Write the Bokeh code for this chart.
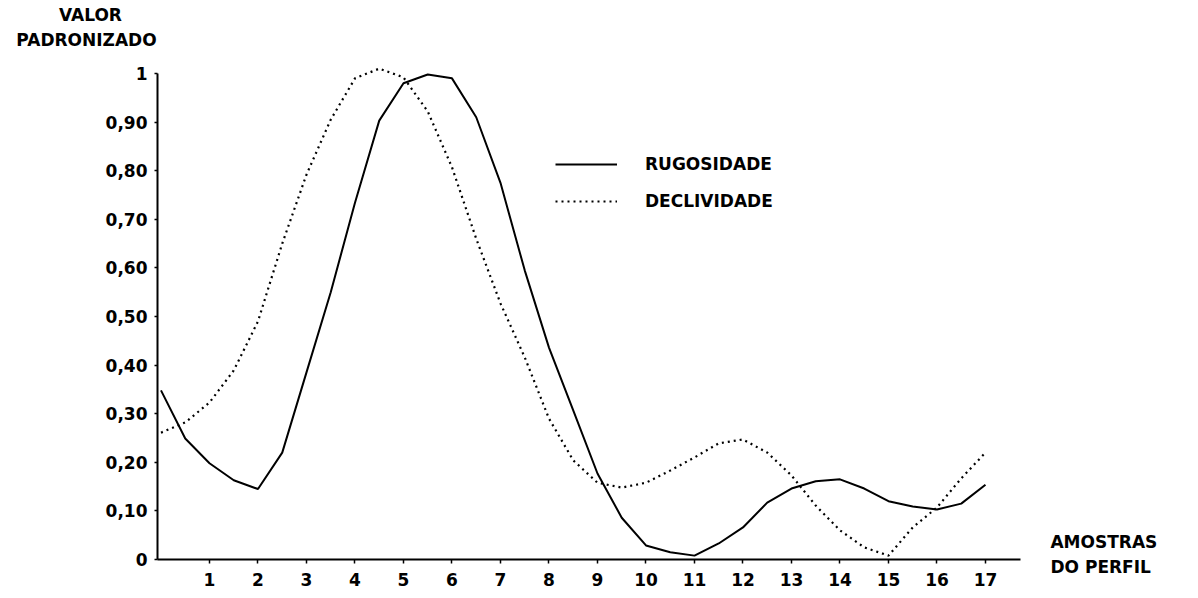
from bokeh.plotting import figure
from bokeh.models import Range1d, FixedTicker, Label, Legend, LegendItem
from bokeh.embed import file_html
from bokeh.resources import INLINE

# Samples along the profile (read at half-sample steps from the picture)
amostras = [0, 0.5, 1, 1.5, 2, 2.5, 3, 3.5, 4, 4.5, 5, 5.5, 6, 6.5, 7, 7.5, 8, 8.5,
            9, 9.5, 10, 10.5, 11, 11.5, 12, 12.5, 13, 13.5, 14, 14.5, 15, 15.5, 16, 16.5, 17]

rugosidade = [0.348, 0.249, 0.198, 0.163, 0.145, 0.22, 0.385, 0.55, 0.734, 0.903, 0.98, 0.998,
              0.99, 0.91, 0.775, 0.595, 0.436, 0.307, 0.177, 0.086, 0.029, 0.015, 0.008, 0.033,
              0.066, 0.117, 0.146, 0.161, 0.165, 0.146, 0.12, 0.109, 0.103, 0.115, 0.154]

declividade = [0.261, 0.282, 0.323, 0.389, 0.49, 0.65, 0.792, 0.905, 0.99, 1.01, 0.992, 0.922,
               0.807, 0.66, 0.527, 0.416, 0.29, 0.204, 0.158, 0.148, 0.158, 0.183, 0.21, 0.239,
               0.247, 0.22, 0.173, 0.111, 0.06, 0.025, 0.008, 0.066, 0.107, 0.167, 0.22]

x_ticks = list(range(1, 18))
y_ticks = [0, 0.1, 0.2, 0.3, 0.4, 0.5, 0.6, 0.7, 0.8, 0.9, 1.0]
y_tick_labels = ["0", "0,10", "0,20", "0,30", "0,40", "0,50", "0,60", "0,70", "0,80", "0,90", "1"]

FONT = "DejaVu Sans"
W, H = 1196, 596

# frame covers the whole canvas; axes are pinned at fixed data locations
p = figure(width=W, height=H,
           x_range=Range1d(-3.309, 21.351), y_range=Range1d(-0.0761, 1.1502),
           output_backend="svg", toolbar_location=None,
           min_border_left=0, min_border_right=0, min_border_top=0, min_border_bottom=0)
p.outline_line_color = None
p.xgrid.grid_line_color = None
p.ygrid.grid_line_color = None
p.background_fill_color = "white"
p.border_fill_color = "white"

r1 = p.line(amostras, rugosidade, line_color="black", line_width=2)
r2 = p.line(amostras, declividade, line_color="black", line_width=2.2, line_dash="2 4")

# axes
p.xaxis.ticker = FixedTicker(ticks=x_ticks)
p.yaxis.ticker = FixedTicker(ticks=y_ticks)
p.yaxis.major_label_overrides = {t: l for t, l in zip(y_ticks, y_tick_labels)}
p.xaxis.fixed_location = 0
p.yaxis.fixed_location = -0.072
p.xaxis.bounds = (-0.072, 17.72)
p.yaxis.bounds = (0, 1.0)
for ax in (p.xaxis, p.yaxis):
    ax.axis_line_color = "black"
    ax.axis_line_width = 2
    ax.major_tick_line_color = "black"
    ax.major_tick_line_width = 1.5
    ax.minor_tick_line_color = None
    ax.major_label_text_font = FONT
    ax.major_label_text_font_style = "bold"
    ax.major_label_text_font_size = "17px"
    ax.major_label_text_color = "black"
p.xaxis.major_tick_in = 0
p.xaxis.major_tick_out = 4
p.xaxis.major_label_standoff = 9
p.yaxis.major_tick_in = 0
p.yaxis.major_tick_out = 3
p.yaxis.major_label_standoff = 7

# legend
legend = Legend(items=[LegendItem(label="RUGOSIDADE", renderers=[r1]),
                       LegendItem(label="DECLIVIDADE", renderers=[r2])],
                location=(555, H - 211), orientation="vertical",
                glyph_width=62, glyph_height=20, label_height=20, spacing=17,
                label_standoff=28, padding=0, margin=0,
                border_line_color=None, background_fill_color=None,
                label_text_font=FONT, label_text_font_style="bold",
                label_text_font_size="17px", label_text_color="black")
p.add_layout(legend, "center")

# axis titles
def lab(x, y, text, align):
    p.add_layout(Label(x=x, y=y, text=text, text_align=align, text_baseline="middle",
                       text_font=FONT, text_font_style="bold", text_font_size="17px",
                       text_color="black"))

lab(-1.454, 1.121, "VALOR", "center")
lab(-1.536, 1.068, "PADRONIZADO", "center")
lab(18.34, 0.037, "AMOSTRAS", "left")
lab(18.34, -0.0144, "DO PERFIL", "left")

open("out.html", "w").write(file_html(p, INLINE))
